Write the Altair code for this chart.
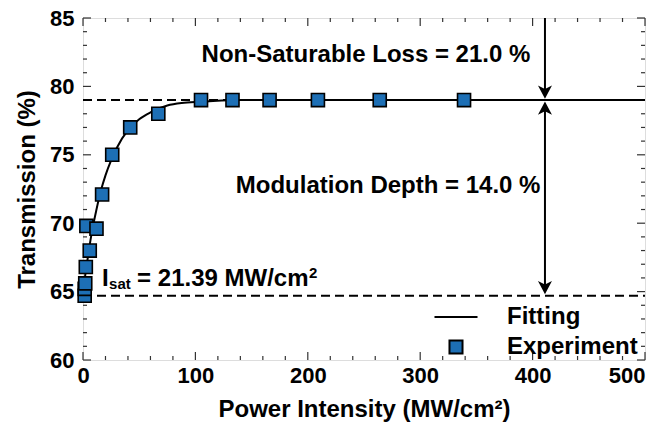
import altair as alt
import pandas as pd

# ---------------- data ----------------
exp_x = [1.5, 1.5, 2.0, 2.5, 6.0, 3.0, 12.0, 17.0, 26.0, 42.0, 67.0, 105.0, 133.0, 166.0, 209.0, 264.0, 339.0]
exp_y = [64.7, 65.2, 65.6, 66.8, 68.0, 69.8, 69.6, 72.1, 75.0, 77.0, 78.0, 79.0, 79.0, 79.0, 79.0, 79.0, 79.0]

fit_x = [0, 2, 5, 8, 12, 16, 20, 25, 30, 40, 50, 60, 75, 90, 110, 140, 200, 500]
fit_y = [65.0, 66.2, 67.9, 69.4, 71.0, 72.4, 73.5, 74.6, 75.5, 76.8, 77.6, 78.1, 78.6, 78.8, 78.9, 79.0, 79.0, 79.0]

sat_level = 79.0     # non-saturable level
low_level = 64.7     # low intensity transmission
arrow_x = 411        # x of the vertical arrows
isat_text_x = 17     # left of the I_sat label

x_major = [0, 100, 200, 300, 400, 500]
x_minor = [v for v in range(0, 501, 20) if v % 100 != 0]
y_major = [60, 65, 70, 75, 80, 85]
y_minor = [v for v in range(60, 86) if v % 5 != 0]

W, H = 562, 342
FONT = "Liberation Sans"
BLUE = "#1d6fb5"

xs = alt.Scale(domain=[0, 500], nice=False, zero=False)
ys = alt.Scale(domain=[60, 85], nice=False, zero=False)

xaxis = alt.Axis(
    title="Power Intensity (MW/cm²)", values=x_major, format="d",
    grid=False, ticks=False, tickSize=0, domain=False,
    labelFontSize=22, labelFontWeight="bold", labelPadding=5,
    labelAlign=alt.expr("datum.value === 500 ? 'right' : 'center'"),
    titleFontSize=24, titleFontWeight="bold", titlePadding=11,
    labelColor="black", titleColor="black", labelFont=FONT, titleFont=FONT,
)
yaxis = alt.Axis(
    title="Transmission (%)", values=y_major, format="d",
    grid=False, ticks=False, tickSize=0, domain=False,
    labelFontSize=22, labelFontWeight="bold", labelPadding=9,
    titleFontSize=24, titleFontWeight="bold", titlePadding=10,
    labelColor="black", titleColor="black", labelFont=FONT, titleFont=FONT,
)

def X(field):
    return alt.X(f"{field}:Q", scale=xs, axis=xaxis)

def Y(field):
    return alt.Y(f"{field}:Q", scale=ys, axis=yaxis)

exp_df = pd.DataFrame({"x": exp_x, "y": exp_y, "series": ["Experiment"] * len(exp_x)})
fit_df = pd.DataFrame({"x": fit_x, "y": fit_y})
levels_df = pd.DataFrame({"y": [sat_level, low_level]})

# dashed reference lines
dashed = alt.Chart(levels_df).mark_rule(strokeDash=[9, 5], strokeWidth=2, color="black").encode(
    y=Y("y"), x=alt.value(0), x2=alt.value(W)
)

fit = alt.Chart(fit_df).mark_line(color="black", strokeWidth=2, interpolate="monotone").encode(
    x=X("x"), y=Y("y")
)

line_path = "M-3.3,0H3.3"
points = alt.Chart(exp_df).mark_point(
    filled=False, color="black", fill=BLUE, strokeWidth=1.6, size=170, opacity=1,
    fillOpacity=1, strokeOpacity=1,
).encode(
    x=X("x"), y=Y("y"),
    shape=alt.Shape(
        "series:N",
        scale=alt.Scale(domain=["Fitting", "Experiment"], range=[line_path, "square"]),
        legend=alt.Legend(
            title=None, orient="none", legendX=361, legendY=287,
            labelFontSize=24, labelFontWeight="bold", labelFont=FONT, labelColor="black",
            symbolSize=170, symbolStrokeWidth=2, symbolOpacity=1,
            labelOffset=39, rowPadding=6, padding=0,
        ),
    ),
)

# arrows
arrow_df = pd.DataFrame({
    "x": [arrow_x, arrow_x],
    "y1": [85, sat_level - 0.3],
    "y2": [sat_level + 0.5, low_level + 0.5],
})
arrow_lines = alt.Chart(arrow_df).mark_rule(color="black", strokeWidth=2).encode(
    x=X("x"), y=Y("y1"), y2="y2"
)
down_df = pd.DataFrame({"x": [arrow_x, arrow_x], "y": [sat_level + 0.1, low_level + 0.1]})
up_df = pd.DataFrame({"x": [arrow_x], "y": [sat_level - 0.1]})
down_heads = alt.Chart(down_df).mark_point(
    shape="M0,0L-1,-1.9L0,-1.4L1,-1.9Z", filled=True, color="black", size=196, opacity=1
).encode(x=X("x"), y=Y("y"))
up_heads = alt.Chart(up_df).mark_point(
    shape="M0,0L-1,1.9L0,1.4L1,1.9Z", filled=True, color="black", size=196, opacity=1
).encode(x=X("x"), y=Y("y"))

# annotations
def label(text, x, y, size=24, align="left", baseline="middle", dx=0, dy=0):
    return alt.Chart(pd.DataFrame({"x": [x], "y": [y], "t": [text]})).mark_text(
        font=FONT, fontSize=size, fontWeight="bold", color="black",
        align=align, baseline=baseline, dx=dx, dy=dy,
    ).encode(x=X("x"), y=Y("y"), text="t:N")

nsl = label("Non-Saturable Loss = 21.0 %", 398, 82.3, align="right")
md = label("Modulation Depth = 14.0 %", 407, 72.7, align="right")
isat_I = label("I", isat_text_x, 65.4, baseline="alphabetic")
isat_sub = label("sat", isat_text_x, 65.4, size=15, baseline="alphabetic", dx=7, dy=3)
isat_main = label("= 21.39 MW/cm", isat_text_x, 65.4, baseline="alphabetic", dx=35)
isat_sup = label("2", isat_text_x, 65.4, size=15, baseline="alphabetic", dx=207, dy=-8)

# inward ticks on all four sides
def xticks(vals, length, top):
    df = pd.DataFrame({"x": vals})
    if top:
        enc = dict(y=alt.value(0), y2=alt.value(length))
    else:
        enc = dict(y=alt.value(H), y2=alt.value(H - length))
    return alt.Chart(df).mark_rule(color="#333333", strokeWidth=1.2).encode(x=X("x"), **enc)

def yticks(vals, length, right):
    df = pd.DataFrame({"y": vals})
    if right:
        enc = dict(x=alt.value(W), x2=alt.value(W - length))
    else:
        enc = dict(x=alt.value(0), x2=alt.value(length))
    return alt.Chart(df).mark_rule(color="#333333", strokeWidth=1.2).encode(y=Y("y"), **enc)

ticks = [
    xticks(x_major, 8, False), xticks(x_minor, 4, False),
    xticks(x_major, 8, True), xticks(x_minor, 4, True),
    yticks(y_major, 8, False), yticks(y_minor, 4, False),
    yticks(y_major, 8, True), yticks(y_minor, 4, True),
]

chart = alt.layer(
    *ticks, dashed, fit, arrow_lines, down_heads, up_heads,
    nsl, md, isat_I, isat_sub, isat_main, isat_sup, points,
).properties(
    width=W, height=H,
    autosize=alt.AutoSizeParams(type="none"),
    padding={"left": 75, "top": 10, "right": 1, "bottom": 64},
).configure_view(
    stroke="#333333", strokeWidth=1.4
).configure(background="white")

chart.save("out.html", embed_options={"renderer": "svg", "actions": False})
